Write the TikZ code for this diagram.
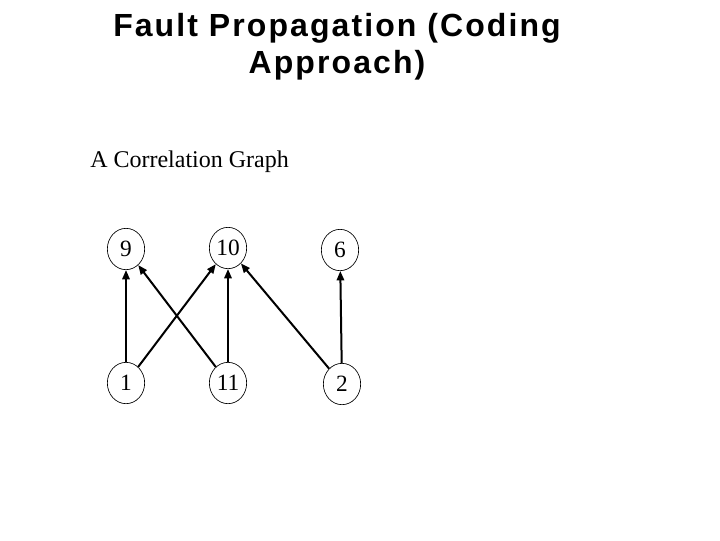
\documentclass[tikz,border=0pt]{standalone}
\usepackage{fontspec}
\setmainfont{Liberation Serif}
\newfontfamily\titlefont[LetterSpace=6.5]{Liberation Sans}
\usetikzlibrary{shapes.geometric,arrows.meta}
\begin{document}
\begin{tikzpicture}[x=0.75pt,y=-0.75pt,
  vert/.style={ellipse,draw=black,line width=0.5pt,minimum width=28pt,minimum height=31pt,inner sep=0pt,font=\fontsize{17.5}{19}\selectfont},
  link/.style={line width=1.5pt,-{Triangle[length=7pt,width=5.5pt]}},
  titletext/.style={font=\titlefont\bfseries\fontsize{24}{28}\selectfont,align=center}]
\useasboundingbox (0,0) rectangle (720,540);
\node[titletext,anchor=base] (t1) at (337,36) {Fault Propagation (Coding};
\node[titletext,anchor=base] (t2) at (337,73) {Approach)};
\node[anchor=base west,inner sep=0pt,font=\fontsize{18}{20}\selectfont] (sub) at (90,167) {A Correlation Graph};
\node[vert] (n9) at (126,249) {9};
\node[vert] (n10) at (228,248) {10};
\node[vert] (n6) at (340,250) {6};
\node[vert] (n1) at (126,383) {1};
\node[vert] (n11) at (228,383) {11};
\node[vert] (n2) at (342,384) {2};
\draw[link] (n1) -- (n9);
\draw[link] (n1) -- (n10);
\draw[link] (n11) -- (n9);
\draw[link] (n11) -- (n10);
\draw[link] (n2) -- (n10);
\draw[link] (n2) -- (n6);
\end{tikzpicture}
\end{document}
